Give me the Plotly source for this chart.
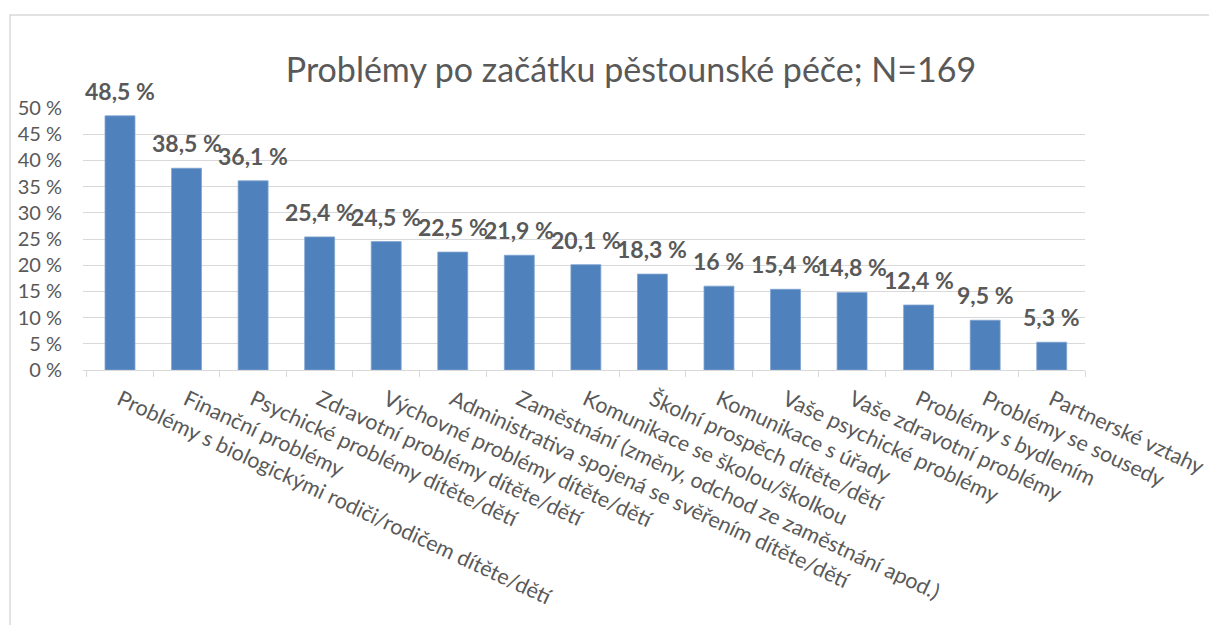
import plotly.graph_objects as go

categories = [
    "Problémy s biologickými rodiči/rodičem dítěte/dětí",
    "Finanční problémy",
    "Psychické problémy dítěte/dětí",
    "Zdravotní problémy dítěte/dětí",
    "Výchovné problémy dítěte/dětí",
    "Administrativa spojená se svěřením dítěte/dětí",
    "Zaměstnání (změny, odchod ze zaměstnání apod.)",
    "Komunikace se školou/školkou",
    "Školní prospěch dítěte/dětí",
    "Komunikace s úřady",
    "Vaše psychické problémy",
    "Vaše zdravotní problémy",
    "Problémy s bydlením",
    "Problémy se sousedy",
    "Partnerské vztahy",
]
values = [48.5, 38.5, 36.1, 25.4, 24.5, 22.5, 21.9, 20.1, 18.3, 16, 15.4, 14.8, 12.4, 9.5, 5.3]
y_ticks = [0, 5, 10, 15, 20, 25, 30, 35, 40, 45, 50]
y_tick_labels = [f"{t} %" for t in y_ticks]
title_text = "Problémy po začátku pěstounské péče; N=169"

labels = [f"{v:g}".replace(".", ",") + " %" for v in values]

GRAY = "#595959"
GRID = "#d9d9d9"
FONT = "Lato"

fig = go.Figure()
fig.add_trace(go.Bar(
    x=categories, y=values,
    marker=dict(color="#4f81bd", line=dict(color="#7fa3d1", width=0.8)),
    hoverinfo="skip",
))

for c, v, t in zip(categories, values, labels):
    fig.add_annotation(x=c, y=v, xref="x", yref="y", text=f"<b>{t}</b>",
                       showarrow=False, yanchor="middle", yshift=25,
                       font=dict(family=FONT, size=23, color=GRAY))

L, R, T, B = 83, 1085, 108, 370
W, H = 1209, 625
pw, ph = R - L, B - T

fig.add_shape(type="rect", xref="paper", yref="paper",
              x0=(10 - L) / pw, x1=(1230 - L) / pw,
              y0=(B - 660) / ph, y1=(B - 15) / ph,
              line=dict(color=GRID, width=1.5), fillcolor="rgba(0,0,0,0)", layer="below")

fig.update_layout(
    width=W, height=H,
    margin=dict(l=L, r=W - R, t=T, b=H - B, autoexpand=False),
    paper_bgcolor="white", plot_bgcolor="white",
    bargap=0.55,
    showlegend=False,
    title=dict(text=title_text, x=631 / W, xref="container", xanchor="center",
               y=1 - 70 / H, yref="container", yanchor="middle",
               font=dict(family=FONT, size=34, color=GRAY)),
    font=dict(family=FONT, color=GRAY),
)
fig.update_yaxes(range=[0, 50], tickvals=y_ticks, ticktext=y_tick_labels,
                 showgrid=True, gridcolor=GRID, gridwidth=1, zeroline=False,
                 showline=False, ticks="", ticklabelstandoff=20,
                 tickfont=dict(family=FONT, size=20, color=GRAY), automargin=False)
fig.update_xaxes(tickangle=25, showline=True, linecolor=GRID, linewidth=1,
                 ticks="outside", tickson="boundaries", ticklen=6, tickcolor=GRID,
                 tickfont=dict(family=FONT, size=21.5, color=GRAY), automargin=False,
                 ticklabelstandoff=8)

fig.write_html("out.html", config={"displayModeBar": False},
               post_script="document.body.style.margin='0';")
